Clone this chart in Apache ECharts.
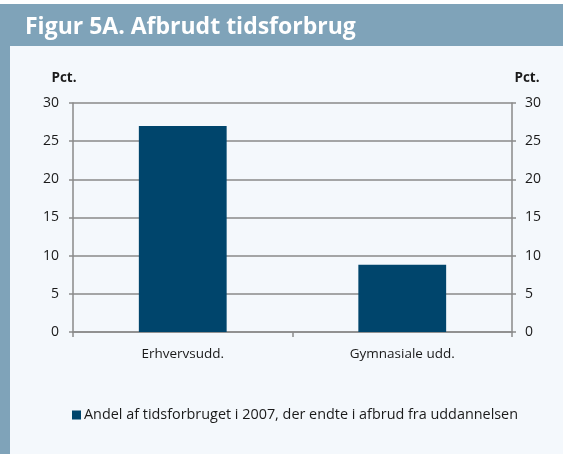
<!DOCTYPE html>
<html><head><meta charset="utf-8">
<script src="https://cdn.jsdelivr.net/npm/echarts@6/dist/echarts.min.js"></script>
<style>html,body{margin:0;padding:0;background:#fff}#c{width:563px;height:454px}</style>
</head><body><div id="c"></div>
<script>
const categories = ['Erhvervsudd.', 'Gymnasiale udd.'];
const values = [27.0, 8.8];
const seriesName = 'Andel af tidsforbruget i 2007, der endte i afbrud fra uddannelsen';
const titleText = 'Figur 5A. Afbrudt tidsforbrug';
const unitLabel = 'Pct.';

const chart = echarts.init(document.getElementById('c'), null, {renderer: 'canvas'});
const fontFam = '"Open Sans", "Noto Sans", sans-serif';
const axisGray = '#8a8a8a';
const yAxisBase = {
  type: 'value', min: 0, max: 30, interval: 5,
  axisLine: {show: true, lineStyle: {color: axisGray, width: 1.5}},
  axisTick: {show: true, length: 4, lineStyle: {color: axisGray, width: 1.5}},
  splitLine: {show: false},
  axisLabel: {color: '#1a1a1a', fontSize: 14, fontFamily: fontFam, margin: 14},
  name: unitLabel,
  nameGap: 18,
  nameTextStyle: {color: '#1a1a1a', fontSize: 13.5, fontWeight: 'bold', fontFamily: fontFam}
};
chart.setOption({
  backgroundColor: '#f4f8fc',
  animation: false,
  graphic: [
    {type: 'rect', shape: {x: 0, y: 0, width: 563, height: 4}, style: {fill: '#ffffff'}, z: -10},
    {type: 'rect', shape: {x: 0, y: 4, width: 563, height: 42}, style: {fill: '#7fa3b9'}, z: -10},
    {type: 'rect', shape: {x: 0, y: 4, width: 10, height: 450}, style: {fill: '#7fa3b9'}, z: -10}
  ],
  title: {
    text: titleText, left: 20, top: 11,
    textStyle: {color: '#ffffff', fontSize: 23, fontWeight: 'bold', fontFamily: fontFam}
  },
  legend: {
    show: true, left: 67, top: 403,
    itemWidth: 9, itemHeight: 9, itemGap: 4,
    icon: 'rect',
    textStyle: {color: '#1a1a1a', fontSize: 14.4, fontFamily: fontFam, padding: [0, 0, 0, -2]}
  },
  grid: {left: 73, right: 51, top: 103, bottom: 122, containLabel: false},
  xAxis: {
    type: 'category', data: categories, boundaryGap: true,
    axisLine: {show: true, lineStyle: {color: axisGray, width: 1.5}},
    axisTick: {show: true, length: 5, alignWithLabel: false, lineStyle: {color: axisGray, width: 1.5}},
    axisLabel: {color: '#1a1a1a', fontSize: 13.5, fontFamily: fontFam, margin: 15}
  },
  yAxis: [
    Object.assign({}, yAxisBase, {position: 'left', nameLocation: 'end',
      nameTextStyle: Object.assign({}, yAxisBase.nameTextStyle, {align: 'center', padding: [0, 18, 0, 0]}),
      splitLine: {show: true, lineStyle: {color: axisGray, width: 1.5}}}),
    Object.assign({}, yAxisBase, {position: 'right', nameLocation: 'end',
      axisLabel: Object.assign({}, yAxisBase.axisLabel, {margin: 13}),
      nameTextStyle: Object.assign({}, yAxisBase.nameTextStyle, {align: 'center', padding: [0, 0, 0, 30]})})
  ],
  series: [{
    name: seriesName, type: 'bar', data: values, barWidth: '40%',
    yAxisIndex: 0,
    itemStyle: {color: '#00456c'}
  }]
});
</script></body></html>
